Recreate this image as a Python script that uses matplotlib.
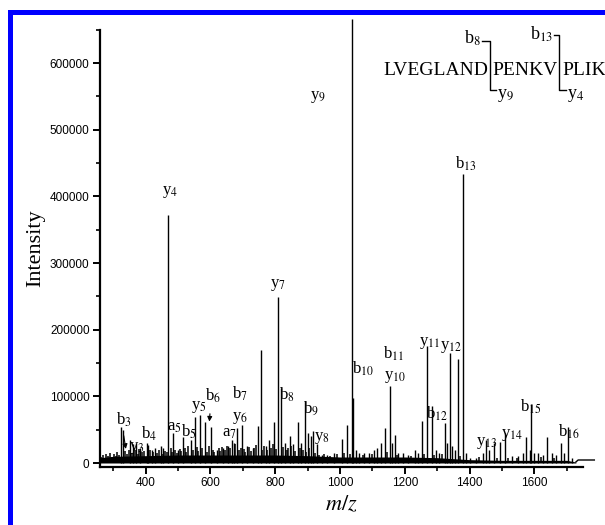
import matplotlib
matplotlib.use('Agg')
import matplotlib.pyplot as plt
from matplotlib.patches import Rectangle
from matplotlib.lines import Line2D

plt.rcParams['font.family'] = 'Liberation Serif'
plt.rcParams['mathtext.fontset'] = 'stix'

# main fragment peaks (m/z, intensity)
peak_mz = [324, 329, 352, 362, 370, 384, 403, 408, 418, 430, 446, 455,
           470, 485, 500, 514, 539, 552, 568, 583, 602,
           620, 640, 655, 665, 672, 681, 698, 712, 730, 746, 755, 770, 782,
           796, 809, 818, 830, 845, 856, 869, 880, 892, 900, 909, 917, 928,
           945, 960, 980, 1005, 1022, 1036, 1041, 1050, 1060, 1075, 1090,
           1105, 1115, 1125, 1138, 1154, 1160, 1169, 1180, 1195, 1210, 1230,
           1240, 1252, 1269, 1283, 1295, 1305, 1324, 1330, 1339, 1347, 1355,
           1363, 1380, 1390, 1400, 1420, 1440, 1450, 1460, 1475, 1494, 1509,
           1530, 1550, 1565, 1574, 1585, 1591, 1600, 1612, 1625, 1640, 1655,
           1668, 1681, 1692, 1704, 1715]
peak_int = [54000, 50000, 34500, 28000, 30000, 22000, 30000, 27000, 20000, 22000, 25000, 22000,
            372000, 44500, 20000, 39000, 34000, 69500, 72000, 61000, 53500,
            20000, 22000, 25000, 34500, 30000, 52000, 57000, 25000, 22000, 55500, 169500, 25000, 35000,
            62000, 248500, 112000, 30000, 40000, 28000, 62000, 30000, 93500, 45000, 40000, 48500, 28000,
            12000, 12000, 15000, 36000, 57000, 666000, 97000, 20000, 15000, 15000, 15000,
            20000, 22000, 30000, 52000, 115500, 30000, 42000, 15000, 15000, 12000, 20000,
            15000, 63500, 175500, 85500, 20000, 15000, 59500, 30000, 165500, 25000, 20000,
            155500, 433500, 15000, 8000, 8000, 15000, 34500, 20000, 30000, 31500, 44500,
            10000, 10000, 15000, 39500, 20000, 88000, 15000, 15000, 12000, 39500, 15000,
            12000, 30000, 15000, 53500, 8000]

# low-level noise peaks
grass_mz = [263, 268, 273, 279, 284, 290, 296, 301, 307, 312, 318, 337, 342, 347, 357,
            366, 375, 380, 389, 394, 413, 423, 435, 441, 451, 460, 465, 477, 481, 491,
            496, 505, 509, 520, 525, 531, 545, 558, 563, 575, 590, 596, 607, 612, 625,
            630, 635, 645, 650, 660, 677, 687, 693, 703, 708, 718, 724, 735, 740, 760,
            765, 775, 787, 792, 801, 825, 835, 840, 850, 862, 875, 885, 896, 905, 922,
            935, 950, 970, 990, 1012, 1030, 1070, 1100, 1145, 1175, 1220, 1260, 1290,
            1315, 1370, 1430, 1485, 1520, 1545, 1620, 1660]
grass_int = [9000, 12000, 8000, 14000, 10000, 15000, 9000, 13000, 11000, 16000, 12000, 18000, 14000, 20000, 15000,
             19000, 14000, 21000, 16000, 18000, 20000, 17000, 15000, 19000, 14000, 18000, 16000, 22000, 17000, 20000,
             15000, 21000, 18000, 23000, 16000, 25000, 20000, 24000, 18000, 22000, 17000, 25000, 19000, 16000, 22000,
             18000, 24000, 20000, 26000, 22000, 28000, 19000, 23000, 21000, 17000, 24000, 18000, 22000, 27000, 20000,
             25000, 19000, 23000, 28000, 21000, 24000, 19000, 22000, 26000, 18000, 23000, 20000, 17000, 22000, 15000,
             12000, 14000, 11000, 13000, 15000, 14000, 12000, 13000, 16000, 12000, 11000, 14000, 12000,
             13000, 10000, 9000, 8000, 7000, 8000, 9000, 8000]

# baseline envelope
base_mz = [260, 300, 400, 500, 600, 700, 800, 900, 1000, 1100, 1200, 1300, 1400, 1500, 1600, 1700, 1728]
base_int = [8000, 10000, 11000, 12000, 12000, 12000, 12000, 11000, 9000, 9000, 9000, 8000, 5000, 4000, 4000, 4000, 1500]
tail_mz = [1728, 1735, 1785]
tail_int = [1500, 4500, 4500]

# peak labels: (text, m/z, intensity)
label_text = ['y$_{9}$', 'y$_{4}$', 'y$_{7}$', 'b$_{13}$', 'b$_{11}$', 'y$_{10}$', 'b$_{10}$',
              'y$_{11}$', 'y$_{12}$', 'b$_{12}$', 'y$_{13}$', 'y$_{14}$', 'b$_{15}$', 'b$_{16}$',
              'b$_{3}$', 'y$_{3}$', 'b$_{4}$', 'a$_{5}$', 'b$_{5}$', 'y$_{5}$', 'b$_{6}$',
              'a$_{7}$', 'y$_{6}$', 'b$_{7}$', 'b$_{8}$', 'b$_{9}$', 'y$_{8}$']
label_mz = [932, 475, 809, 1387, 1166, 1170, 1072, 1276, 1341, 1300, 1454, 1532, 1588, 1706,
            333, 372, 410, 490, 534, 565, 609, 660, 692, 692, 837, 909, 945]
label_int = [549000, 406500, 267000, 449500, 164500, 129500, 142000, 180500, 173500, 74500, 29500, 42000, 84500, 47000,
             65500, 22000, 44000, 54500, 47000, 84500, 101000, 44500, 67000, 104500, 102000, 80500, 37000]

W, H = 605, 525
fig = plt.figure(figsize=(W / 100, H / 100), dpi=100)
ax = fig.add_axes([100 / W, 1 - 467 / H, 483 / W, (467 - 29.7) / H])


def fx(x):
    return x / W


def fy(y):
    return 1 - y / H


# spectrum
ax.fill_between(base_mz, 0, base_int, color='black', lw=0)
ax.vlines(grass_mz, 0, grass_int, color='black', lw=1.1)
ax.vlines(peak_mz, 0, peak_int, color='black', lw=1.0, clip_on=False)
ax.plot(tail_mz, tail_int, color='black', lw=1.0, clip_on=False)

ax.set_xlim(259, 1750)
ax.set_ylim(-6000, 650000)

for sp in ['top', 'right']:
    ax.spines[sp].set_visible(False)
for sp in ['left', 'bottom']:
    ax.spines[sp].set_linewidth(1.6)

ax.set_xticks([400, 600, 800, 1000, 1200, 1400, 1600])
ax.set_xticks([300, 500, 700, 900, 1100, 1300, 1500, 1700], minor=True)
ax.set_yticks([0, 100000, 200000, 300000, 400000, 500000, 600000])
ax.set_yticks([50000, 150000, 250000, 350000, 450000, 550000, 650000], minor=True)
ax.tick_params(which='major', direction='out', length=5, width=1.4, labelsize=8.5, pad=2.5)
ax.tick_params(which='minor', direction='out', length=3, width=1.2)
for lab in ax.get_xticklabels() + ax.get_yticklabels():
    lab.set_fontfamily('Liberation Sans')

ax.set_ylabel('Intensity', fontsize=16, labelpad=3)
ax.set_xlabel('$m/z$', fontsize=16, labelpad=4)

for t, x, y in zip(label_text, label_mz, label_int):
    ax.text(x, y, t, fontsize=12, ha='center', va='center')

# arrows for b3 and b6
ax.annotate('', xy=(340, 17000), xytext=(331, 45000),
            arrowprops=dict(arrowstyle='-|>', color='black', lw=0.8, mutation_scale=7))
ax.annotate('', xy=(596, 58000), xytext=(599, 78000),
            arrowprops=dict(arrowstyle='-|>', color='black', lw=0.8, mutation_scale=7))

# peptide sequence with cleavage brackets
fig.text(fx(383), fy(75), 'LVEGLAND', fontsize=14, va='baseline', ha='left')
fig.text(fx(492), fy(75), 'PENKV', fontsize=14, va='baseline', ha='left')
fig.text(fx(562), fy(75), 'PLIK', fontsize=14, va='baseline', ha='left')
fig.text(fx(481), fy(44), 'b$_{8}$', fontsize=13, va='baseline', ha='right')
fig.text(fx(497), fy(98), 'y$_{9}$', fontsize=13, va='baseline', ha='left')
fig.text(fx(553), fy(40), 'b$_{13}$', fontsize=13, va='baseline', ha='right')
fig.text(fx(567), fy(98), 'y$_{4}$', fontsize=13, va='baseline', ha='left')
fig.add_artist(Line2D([fx(482), fx(490), fx(490), fx(496)], [fy(41), fy(41), fy(90), fy(90)],
                      color='black', lw=1.0))
fig.add_artist(Line2D([fx(554), fx(559), fx(559), fx(566)], [fy(35), fy(35), fy(90), fy(90)],
                      color='black', lw=1.0))

# blue frame on left and top
fig.add_artist(Rectangle((fx(8), 0), 5 / W, fy(10), transform=fig.transFigure, color='#0000ff', lw=0))
fig.add_artist(Rectangle((fx(8), fy(15)), 1, 5 / H, transform=fig.transFigure, color='#0000ff', lw=0))

fig.savefig('out.png', dpi=100)
